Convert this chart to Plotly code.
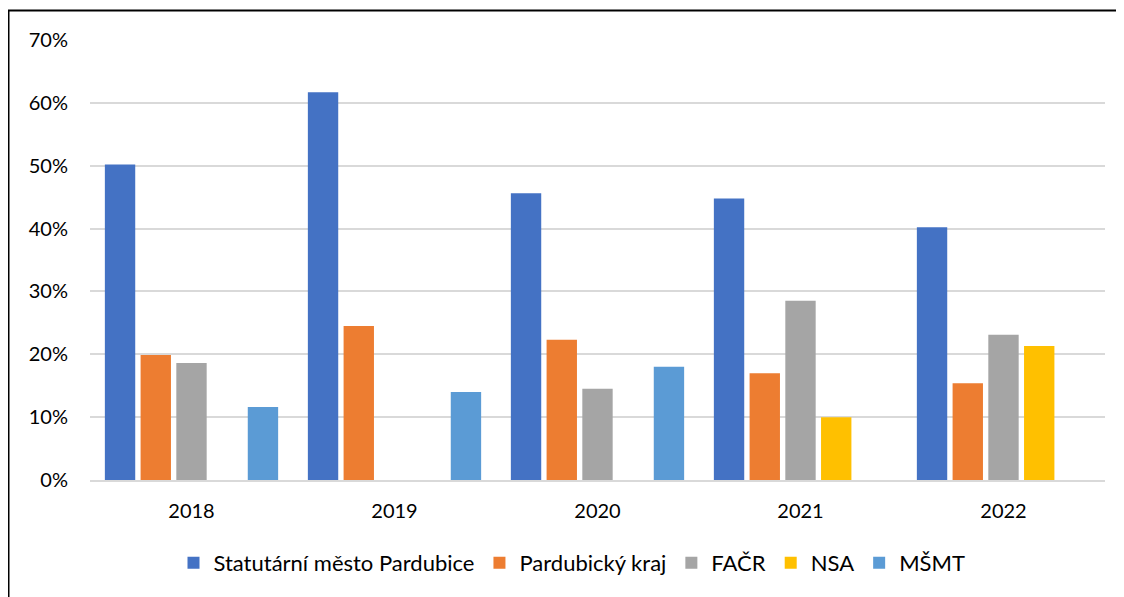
import plotly.graph_objects as go

years = ["2018", "2019", "2020", "2021", "2022"]
mesto = [0.502, 0.617, 0.456, 0.448, 0.402]
kraj = [0.199, 0.245, 0.223, 0.170, 0.154]
facr = [0.186, None, 0.145, 0.285, 0.231]
nsa = [None, None, None, 0.100, 0.213]
msmt = [0.116, 0.140, 0.180, None, None]

series = [
    ("Statutární město Pardubice", mesto, "#4472C4"),
    ("Pardubický kraj", kraj, "#ED7D31"),
    ("FAČR", facr, "#A5A5A5"),
    ("NSA", nsa, "#FFC000"),
    ("MŠMT", msmt, "#5B9BD5"),
]

FONT = "Lato"
fig = go.Figure()
for name, vals, col in series:
    fig.add_trace(go.Bar(x=years, y=vals, name=name, marker=dict(color=col, line=dict(width=0))))

# page has an 8px body margin; figure coordinates are page coordinates - 8
OFF = 8
W, H = 1116, 589
L, R, T, B = 82, 19, 32, 117
pw, ph = W - L - R, H - T - B

def px(x):
    return (x - OFF - L) / pw

def py(y):
    return (H - B - (y - OFF)) / ph

fig.update_layout(
    width=W, height=H,
    margin=dict(l=L, r=R, t=T, b=B),
    paper_bgcolor="white", plot_bgcolor="white",
    barmode="group", bargap=0.12, bargroupgap=0.15,
    font=dict(family=FONT, size=20, color="#000000"),
    showlegend=True,
    legend=dict(orientation="h", x=px(572), xanchor="center", y=py(563), yanchor="middle",
                font=dict(size=22, family=FONT, color="#000000"), itemwidth=30, traceorder="normal"),
    xaxis=dict(showgrid=False, showline=True, linecolor="#D9D9D9", linewidth=2,
               ticks="outside", ticklen=12, tickcolor="rgba(0,0,0,0)",
               tickfont=dict(size=20, family=FONT, color="#000000")),
    yaxis=dict(range=[0, 0.7], tickvals=[0, 0.1, 0.2, 0.3, 0.4, 0.5, 0.6, 0.7],
               tickformat=".0%", showgrid=True, gridcolor="#D9D9D9", gridwidth=1.5,
               zeroline=False, showline=False, ticks="outside", ticklen=17,
               tickcolor="rgba(0,0,0,0)", tickfont=dict(size=20, family=FONT, color="#000000")),
    shapes=[dict(type="rect", xref="paper", yref="paper",
                 x0=px(8.5), x1=px(1140), y0=py(620), y1=py(10.5),
                 line=dict(color="black", width=2), fillcolor="rgba(0,0,0,0)", layer="above")],
)

fig.write_html("out.html")
